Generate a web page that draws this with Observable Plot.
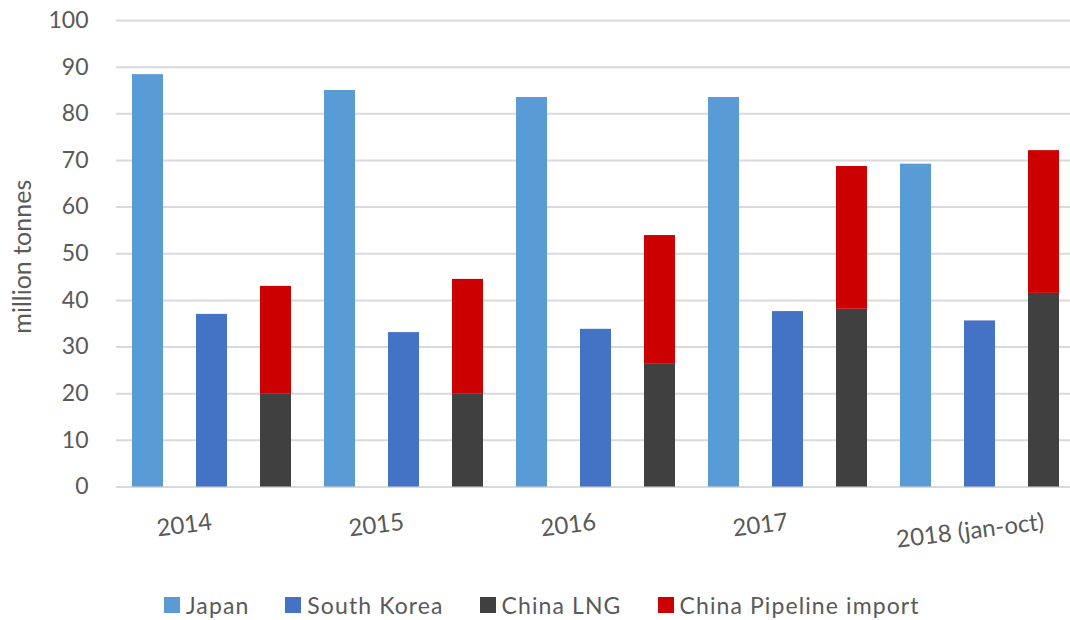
<!DOCTYPE html>
<html>
<head>
<meta charset="utf-8">
<script src="https://cdn.jsdelivr.net/npm/d3@7"></script>
<script src="https://cdn.jsdelivr.net/npm/@observablehq/plot@0.6"></script>
<style>
  html, body { margin: 0; padding: 0; background: #fff; }
  #wrap { position: relative; width: 1070px; height: 620px; overflow: hidden; font-family: Lato, "Open Sans", sans-serif; }
  #legend { position: absolute; left: 164px; top: 592px; height: 26px; display: flex; align-items: center; gap: 36px; font-size: 23px; letter-spacing: 1.1px; color: #595959; }
  #legend .item { display: flex; align-items: center; gap: 6px; }
  #legend .sw { width: 16px; height: 16px; display: inline-block; }
</style>
</head>
<body>
<div id="wrap"></div>
<script>
// LNG / gas import volumes, million tonnes
const years = ["2014", "2015", "2016", "2017", "2018 (jan-oct)"];
const japan = [88.4, 85.0, 83.5, 83.5, 69.2];
const southKorea = [37.0, 33.1, 33.8, 37.6, 35.6];
const chinaLNG = [20.0, 20.0, 26.3, 38.1, 41.5];
const chinaPipeline = [23.0, 24.5, 27.6, 30.6, 30.6];

const seriesNames = ["Japan", "South Korea", "China LNG", "China Pipeline import"];
const seriesColors = ["#5B9BD5", "#4472C4", "#404040", "#CC0000"];
const yTicks = [0, 10, 20, 30, 40, 50, 60, 70, 80, 90, 100];

// Three bar slots per year: Japan, South Korea, China (LNG + pipeline stacked)
const slots = years.flatMap(y => [`${y}|JP`, `${y}|KR`, `${y}|CN`]);

const rows = years.flatMap((y, i) => [
  {slot: `${y}|JP`, series: "Japan", value: japan[i]},
  {slot: `${y}|KR`, series: "South Korea", value: southKorea[i]},
  {slot: `${y}|CN`, series: "China LNG", value: chinaLNG[i]},
  {slot: `${y}|CN`, series: "China Pipeline import", value: chinaPipeline[i]}
]);

// Year labels hang under the Korea slot; the long last label sits under the China slot
const yearLabels = years.map((y, i) => ({
  slot: i === years.length - 1 ? `${y}|CN` : `${y}|KR`,
  text: y
}));

const width = 1070;
const height = 575;

const chart = Plot.plot({
  width,
  height,
  marginLeft: 116,
  marginRight: 0,
  marginTop: 20,
  marginBottom: 88.5,
  style: {fontFamily: "Lato, 'Open Sans', sans-serif", background: "#fff", overflow: "visible"},
  x: {domain: slots, range: [116, 1076], paddingInner: 0.51, paddingOuter: 0.255, axis: null},
  y: {domain: [0, 100], axis: null},
  color: {domain: seriesNames, range: seriesColors},
  marks: [
    Plot.ruleY(yTicks, {stroke: "#D9D9D9", strokeWidth: 2}),
    Plot.barY(rows, {x: "slot", y: "value", fill: "series", order: seriesNames}),
    Plot.axisY(yTicks, {
      tickSize: 0, tickPadding: 28, fontSize: 23, fill: "#595959",
      label: null
    }),
    Plot.text(["million tonnes"], {
      frameAnchor: "left", textAnchor: "middle", dx: -94, dy: 3, rotate: -90,
      fontSize: 25, fill: "#595959", letterSpacing: 1.6
    }),
    Plot.text(yearLabels, {
      x: "slot", y: () => 0, text: "text",
      textAnchor: "end", lineAnchor: "middle", rotate: -7,
      dy: 35, fontSize: 24, fill: "#595959", letterSpacing: 0.8
    })
  ]
});

const wrap = document.getElementById("wrap");
wrap.appendChild(chart);

// Legend under the chart
const legend = document.createElement("div");
legend.id = "legend";
seriesNames.forEach((name, i) => {
  const item = document.createElement("div");
  item.className = "item";
  const sw = document.createElement("span");
  sw.className = "sw";
  sw.style.background = seriesColors[i];
  const label = document.createElement("span");
  label.textContent = name;
  item.appendChild(sw);
  item.appendChild(label);
  legend.appendChild(item);
});
wrap.appendChild(legend);
</script>
</body>
</html>
